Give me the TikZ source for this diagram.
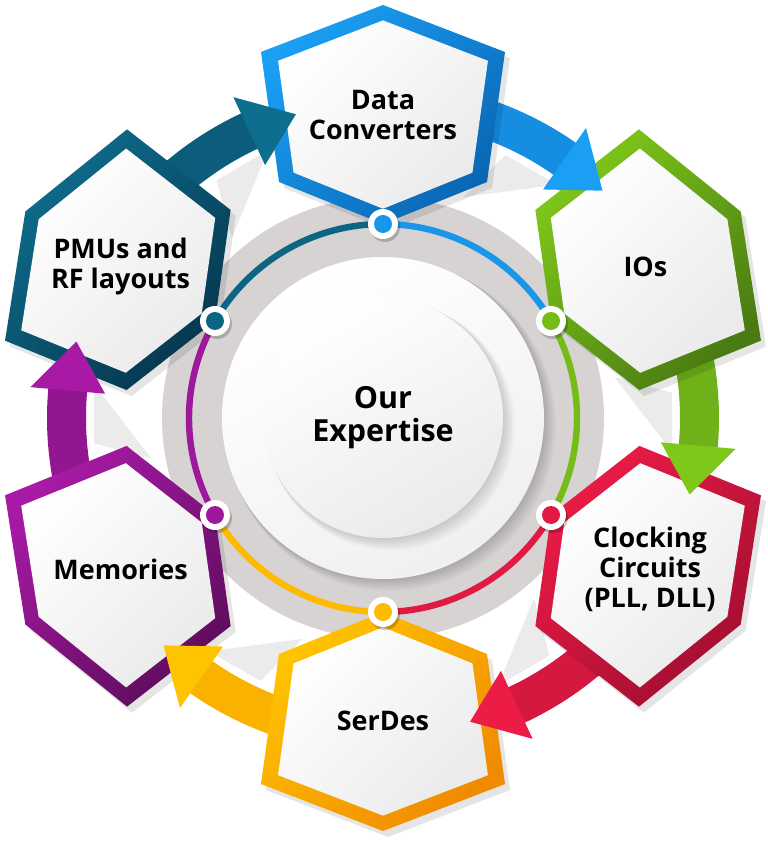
\documentclass[tikz,border=0pt]{standalone}
\usepackage{fontspec}
\setmainfont{Open Sans}
\definecolor{Ldc}{HTML}{1A9FF4}
\definecolor{Ddc}{HTML}{0A66B4}
\definecolor{Lio}{HTML}{7EC81A}
\definecolor{Dio}{HTML}{4A7A12}
\definecolor{Lclk}{HTML}{EC1C46}
\definecolor{Dclk}{HTML}{A00E30}
\definecolor{Lsd}{HTML}{FFC400}
\definecolor{Dsd}{HTML}{F08A00}
\definecolor{Lmem}{HTML}{A81AA6}
\definecolor{Dmem}{HTML}{5E0C5C}
\definecolor{Lpmu}{HTML}{0E6E8E}
\definecolor{Dpmu}{HTML}{06364E}
\definecolor{ringgrey}{HTML}{D8D3D3}
\tikzset{every node/.style={align=center,text=black,inner sep=0pt}}
\tikzset{lbl/.style={font=\fontsize{23}{25.5}\selectfont\bfseries}}
\tikzset{core/.style={font=\fontsize{26}{28}\selectfont\bfseries}}

\begin{document}
\begin{tikzpicture}[x=0.03cm,y=0.03cm]
\useasboundingbox (-383,-423) rectangle (385,418);
% rings in the middle
\fill[ringgrey] (0,0) circle (221);
\foreach \s in {1,...,8} \fill[black,opacity=.025] (\s,-\s) circle (161+\s*.5);
\shade[top color=white, bottom color=black!6, shading angle=30] (0,0) circle (161);
\foreach \s in {1,...,8} \fill[black,opacity=.02] (\s,-\s) circle (120+\s*.5);
\shade[top color=white, bottom color=black!8, shading angle=30] (0,0) circle (120);
% arrow shadows and bodies
\foreach \a/\nm in {150/pmu,90/dc,30/io,-30/clk,-90/sd,-150/mem}{
  \fill[black!8] (\a-43:297) -- (\a-35:283) -- (\a-20:235) -- (\a-25:290) -- cycle;
  \fill[L\nm!70!D\nm] (\a-8:297) arc[start angle=\a-8, end angle=\a-36, radius=297]
    -- (\a-36:336) arc[start angle=\a-36, end angle=\a-8, radius=336] -- cycle;
}
% hexagons
\foreach \a/\nm in {150/pmu,90/dc,30/io,-30/clk,-90/sd,-150/mem}{
  \begin{scope}[shift={(\a:303)}]
    \fill[black,opacity=.1,shift={(5,-6)},rotate=\a-90]
      (0,-109) -- (104,-67) -- (122,63) -- (0,110) -- (-122,63) -- (-104,-67) -- cycle;
    \shade[rotate=\a-90,top color=L\nm,bottom color=D\nm,shading angle=45]
      (0,-109) -- (104,-67) -- (122,63) -- (0,110) -- (-122,63) -- (-104,-67) -- cycle;
    \shade[rotate=\a-90,scale=.86,top color=white,bottom color=black!8,shading angle=45]
      (0,-109) -- (104,-67) -- (122,63) -- (0,110) -- (-122,63) -- (-104,-67) -- cycle;
  \end{scope}
}
% arrow heads, arcs and dots
\foreach \a/\nm in {150/pmu,90/dc,30/io,-30/clk,-90/sd,-150/mem}{
  \fill[L\nm] (\a-35:279) -- (\a-35:354) -- (\a-44:316) -- cycle;
  \draw[L\nm!85!D\nm, line width=5.5pt] (\a:194) arc[start angle=\a, end angle=\a-60, radius=194];
}
\foreach \a/\nm in {150/pmu,90/dc,30/io,-30/clk,-90/sd,-150/mem}{
  \fill[black,opacity=.2,shift={(2,-3)}] (\a:194) circle (15);
  \fill[white] (\a:194) circle (15);
  \fill[L\nm!85!D\nm] (\a:194) circle (9);
}
% labels
\node[lbl] (dc) at (90:303) {Data\\Converters};
\node[lbl] (io) at (30:303) {IOs};
\node[lbl,xshift=4pt] (clk) at (-30:303) {Clocking\\Circuits\\(PLL, DLL)};
\node[lbl] (sd) at (-90:303) {SerDes};
\node[lbl] (mem) at (-150:303) {Memories};
\node[lbl] (pmu) at (150:303) {PMUs and\\RF layouts};
\node[core] (core) at (0,0) {Our\\Expertise};
\end{tikzpicture}
\end{document}
